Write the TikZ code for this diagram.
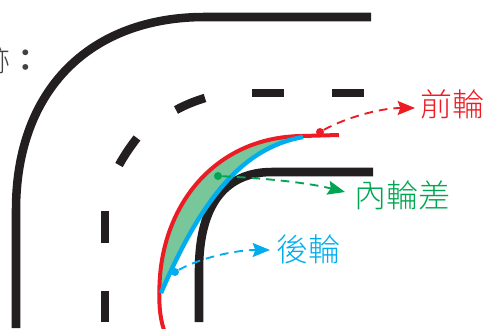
\documentclass[tikz,border=0pt]{standalone}
\usepackage{fontspec}
\newfontfamily\cjk{Noto Sans CJK TC Light}
\newfontfamily\cjkb{Noto Sans CJK TC Bold}
\usetikzlibrary{arrows.meta}
\definecolor{roadk}{HTML}{231F20}
\definecolor{fr}{HTML}{ED1C24}
\definecolor{rr}{HTML}{00AEEF}
\definecolor{gr}{HTML}{00A651}
\definecolor{gf}{HTML}{78C79A}
\tikzset{
  road/.style={draw=roadk,line width=6.4pt},
  wheel/.style={line width=3pt},
  dot/.style={circle,inner sep=0pt,minimum size=6pt,fill=#1},
  lead/.style={draw=#1,line width=1.4pt,dash pattern=on 6.5pt off 4.5pt,-{Stealth[length=13pt,width=10.5pt,inset=2pt,fill=#1]}},
  lab/.style={font=\cjk\fontsize{24}{24}\selectfont,inner sep=0pt,anchor=west,text=#1}
}
\begin{document}
\begin{tikzpicture}[x=0.75pt,y=-0.75pt]
\useasboundingbox (0,0) rectangle (484,328);
\clip (0,0) rectangle (484,328);
% outer kerb
\path[road] (16,328) -- (16,210) .. controls (16,90) and (90,17) .. (205,17) -- (371,17);
% centre line dashes
\path[road] (105,322) -- (105,291);
\path[road] (105,243) -- (105,211);
\path[road] (119,165) .. controls (124,156) and (130,147) .. (137,138);
\path[road] (176,110) .. controls (185,105) and (195,101) .. (205,98);
\path[road] (252,93) -- (284,93);
\path[road] (332,93) -- (364,93);
% inner kerb
\path[road] (199,322) -- (199,270) .. controls (199,205) and (225,172) .. (272,172) -- (373,172);
% swept area
\fill[gf] (160,292) .. controls (160,205) and (215,137) .. (302,136)
  .. controls (245,147) and (203,195) .. (161,292) -- cycle;
% wheel paths
\draw[wheel,draw=fr] (164,330) .. controls (159,315) and (159,300) .. (159.5,285)
  .. controls (162,205) and (215,137) .. (302,136) -- (339,135);
\draw[line width=3.3pt,draw=rr] (161,293) .. controls (203,195) and (245,147) .. (303,137);
% labels
\node[lab=fr] (front) at (420,104) {前輪};
\node[lab=gr] (diff) at (354,195) {內輪差};
\node[lab=rr] (rear) at (276,249) {後輪};
\node[font=\fontsize{23}{23}\selectfont,inner sep=0pt,anchor=east,text=roadk!85] (tail) at (41,60) {{\cjk 跡}{\cjkb ：}};
% dots
\node[dot=fr] (dfront) at (320,132) {};
\node[dot=gr] (ddiff) at (218,176) {};
\node[dot=rr] (drear) at (175,272) {};
% leaders
\coordinate (tfront) at (415,108);
\coordinate (tdiff) at (345,192);
\coordinate (trear) at (270,250);
\path[lead=fr] (dfront) .. controls (345,118) and (380,108) .. (tfront);
\path[lead=gr] (ddiff) .. controls (260,178) and (305,182) .. (tdiff);
\path[lead=rr] (drear) .. controls (200,258) and (235,250) .. (trear);
\end{tikzpicture}
\end{document}
